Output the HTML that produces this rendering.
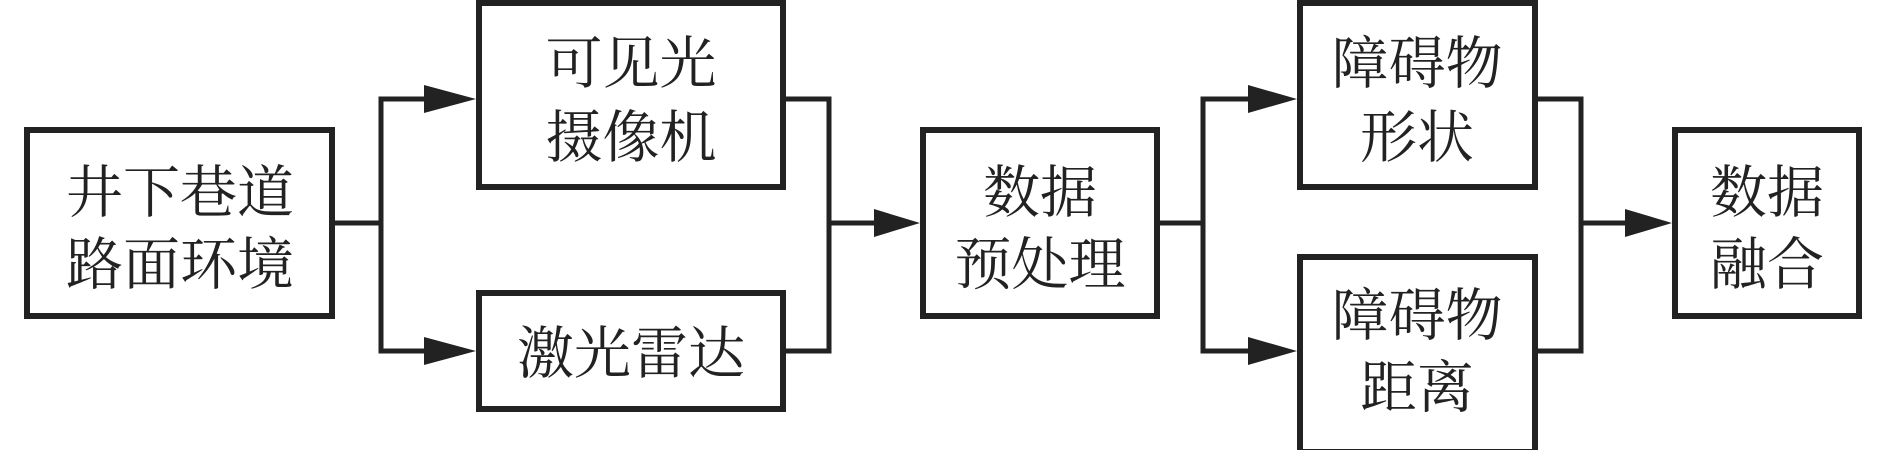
<!DOCTYPE html>
<html><head><meta charset="utf-8"><style>
html,body{margin:0;padding:0;background:#fff;}
body{width:1890px;height:450px;overflow:hidden;position:relative;}
svg{position:absolute;left:0;top:0;}
text{font-family:"Liberation Serif","Noto Serif CJK SC",serif;font-size:57px;fill:#222;text-anchor:middle;}
</style></head><body>
<svg width="1890" height="450" viewBox="0 0 1890 450">
<g fill="none" stroke="#222" stroke-width="6">
<rect x="27" y="130" width="305" height="186"/>
<rect x="479" y="3" width="304" height="184"/>
<rect x="479" y="293" width="304" height="116"/>
<rect x="923" y="130" width="234" height="186"/>
<rect x="1300" y="3" width="235" height="184"/>
<rect x="1300" y="257" width="235" height="195"/>
<rect x="1675" y="130" width="184" height="186"/>
</g>
<g fill="none" stroke="#222" stroke-width="5">
<polyline points="332,223 381,223"/>
<polyline points="430,99 381,99 381,351 430,351"/>
<polyline points="783,99 829,99 829,351 783,351"/>
<polyline points="829,223 880,223"/>
<polyline points="1157,223 1203,223"/>
<polyline points="1252,99 1203,99 1203,351 1252,351"/>
<polyline points="1535,99 1581,99 1581,351 1535,351"/>
<polyline points="1581,223 1628,223"/>
</g>
<g fill="#222">
<polygon points="424,85 476,99 424,113"/>
<polygon points="424,337 476,351 424,365"/>
<polygon points="874,209 920,223 874,237"/>
<polygon points="1248,85 1297,99 1248,113"/>
<polygon points="1248,337 1297,351 1248,365"/>
<polygon points="1625,209 1672,223 1625,237"/>
</g>
<text x="180" y="212">井下巷道</text>
<text x="180" y="284">路面环境</text>
<text x="631" y="83">可见光</text>
<text x="631" y="157">摄像机</text>
<text x="631" y="373">激光雷达</text>
<text x="1040" y="212">数据</text>
<text x="1040" y="284">预处理</text>
<text x="1417" y="83">障碍物</text>
<text x="1417" y="157">形状</text>
<text x="1417" y="335">障碍物</text>
<text x="1417" y="407">距离</text>
<text x="1767" y="212">数据</text>
<text x="1767" y="284">融合</text>
</svg>
</body></html>
